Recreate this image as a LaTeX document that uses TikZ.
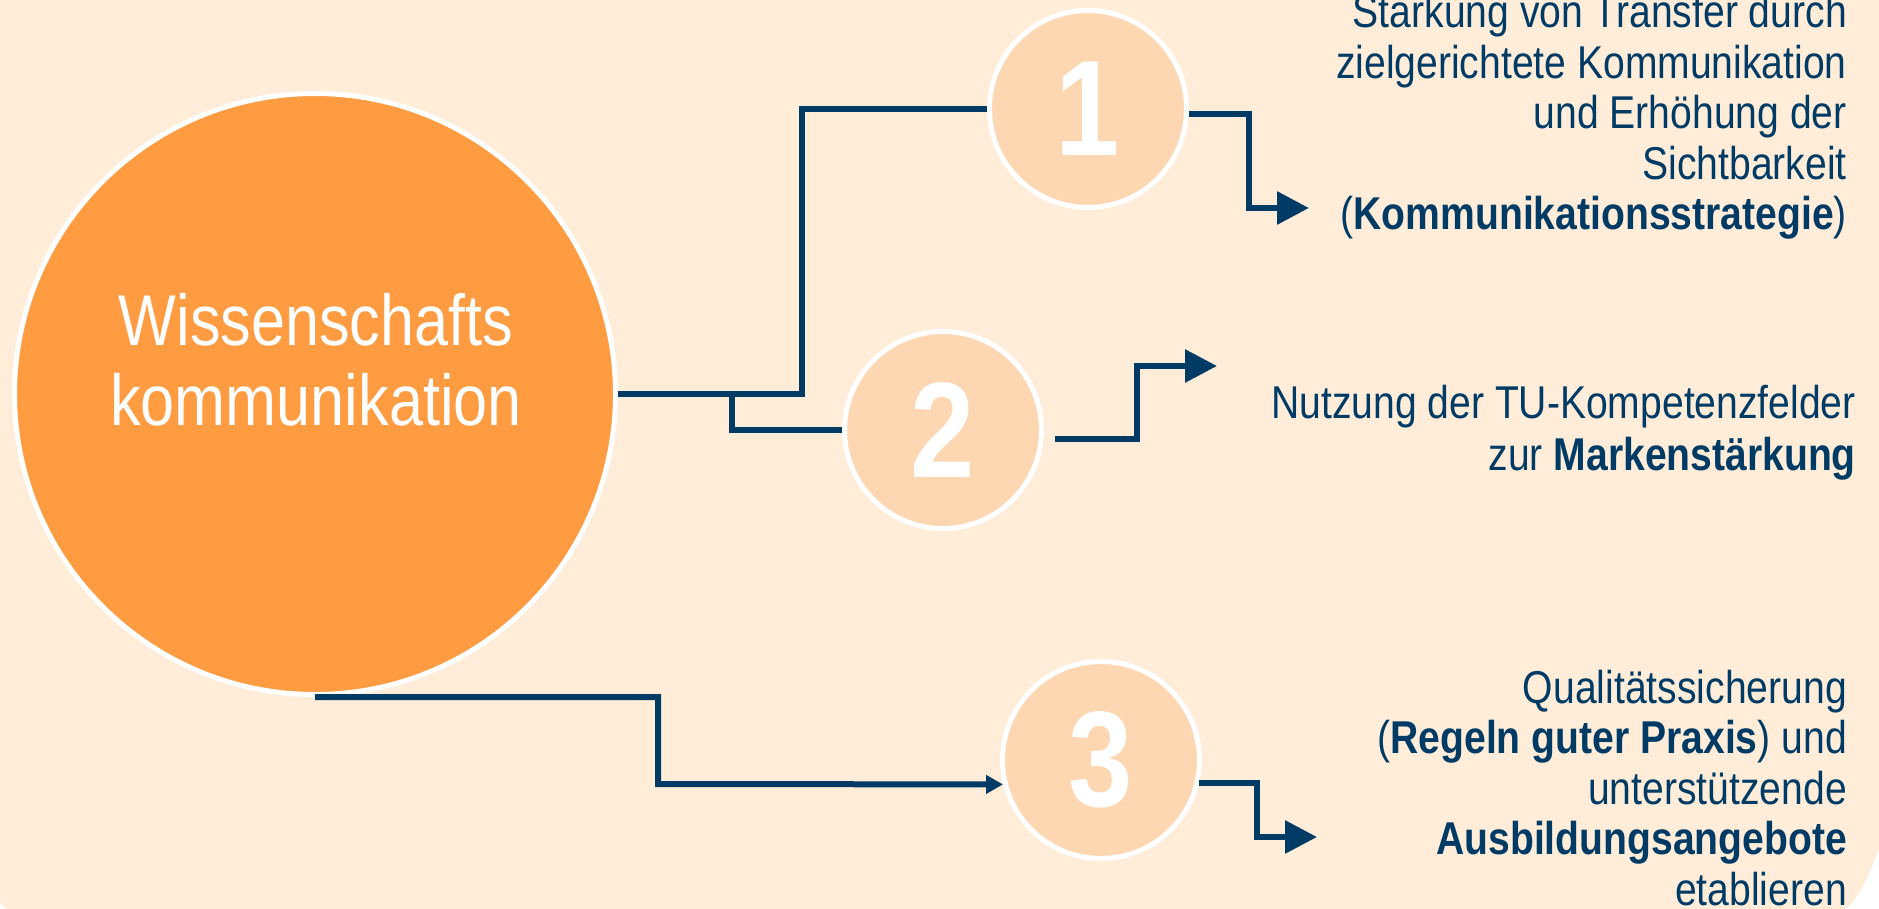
\documentclass[tikz,border=0pt]{standalone}
\usepackage{fontspec}
\newfontfamily\nar[FakeStretch=0.85]{Liberation Sans}
\usetikzlibrary{arrows.meta,calc}
\definecolor{bgc}{RGB}{255,237,217}
\definecolor{orng}{RGB}{255,155,65}
\definecolor{peach}{RGB}{253,215,178}
\definecolor{navy}{RGB}{0,59,101}
\begin{document}
\begin{tikzpicture}[x=1pt,y=-1pt,
  conn/.style={draw=navy,line width=6pt},
  bigtip/.style={-{Triangle[length=32pt,width=32pt]}},
  smalltip/.style={-{Triangle[length=17pt,width=18pt]}},
  numcirc/.style={circle,draw=white,line width=5pt,fill=peach,minimum size=197pt,inner sep=0pt,
    text=white,font=\nar\bfseries\fontsize{136}{140}\selectfont},
  desc/.style={anchor=base east,align=right,inner sep=0pt,text=navy,
    font=\nar\fontsize{46}{50.5}\selectfont}]
\useasboundingbox (0,0) rectangle (1879,909);
\clip (0,0) rectangle (1879,909);
\fill[white] (0,0) rectangle (1879,909);
\fill[bgc] (0,0) -- (1879,0) -- (1879,848) .. controls (1868,880) and (1858,898) .. (1845,909)
  -- (7,909) -- (0,902) -- cycle;
% main circle
\node[circle,draw=white,line width=5pt,fill=orng,minimum size=601pt,inner sep=0pt] (wk) at (315,394) {};
\node[anchor=base,align=center,inner sep=0pt,text=white,font=\nar\fontsize{72}{80}\selectfont]
  (wktext) at (316,425) {Wissenschafts\\kommunikation};
% numbered circles
\node[numcirc] (c1) at (1088,109) {1};
\node[numcirc] (c2) at (943,430) {2};
\node[numcirc] (c3) at (1101,760) {3};
% coordinates
\coordinate (j2) at (732,394);
\coordinate (b1) at (658,784);
\coordinate (t1) at (1309,208);
\coordinate (s2) at (1055,439);
\coordinate (t2) at (1217,366);
\coordinate (t3) at (1317,837);
% connectors
\draw[conn] (wk.east) -- ++(184,0) |- (c1.west);
\draw[conn] (j2) |- (c2.west);
\draw[conn,smalltip] (wk.south) -| (b1) -- (c3.194);
\draw[conn,bigtip] (c1.357) -- ++(60,0) |- (t1);
\draw[conn,bigtip] (s2) -- ++(82,0) |- (t2);
\draw[conn,bigtip] (c3.347) -- ++(58,0) |- (t3);
% descriptions
\node[desc] (d1) at (1847,230) {Stärkung von Transfer durch\\zielgerichtete Kommunikation\\und Erhöhung der\\Sichtbarkeit\\(\textbf{Kommunikationsstrategie})};
\node[desc,font=\nar\fontsize{46}{52}\selectfont] (d2) at (1856,470) {Nutzung der TU-Kompetenzfelder\\zur \textbf{Markenstärkung}};
\node[desc] (d3) at (1847,905) {Qualitätssicherung\\(\textbf{Regeln guter Praxis}) und\\unterstützende\\\textbf{Ausbildungsangebote}\\etablieren};
\end{tikzpicture}
\end{document}
